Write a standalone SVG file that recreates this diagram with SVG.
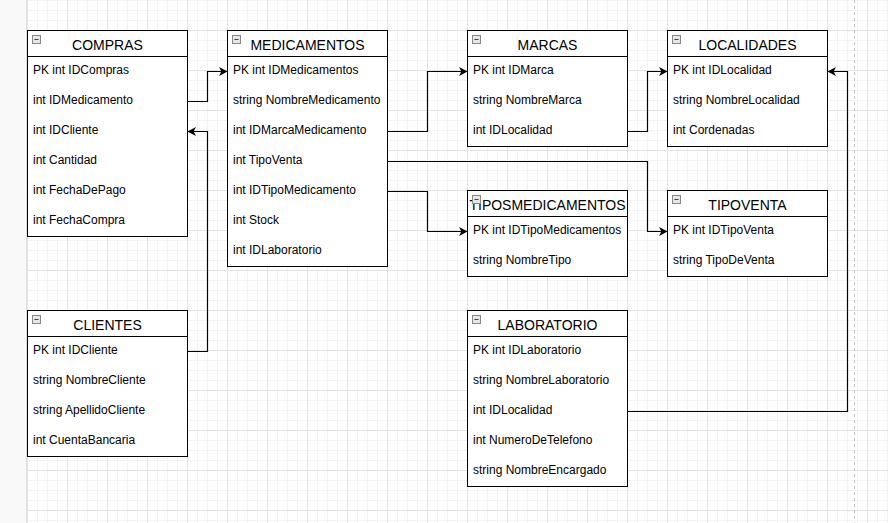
<svg xmlns="http://www.w3.org/2000/svg" width="888" height="523" viewBox="0 0 888 523">
<style>
.box{fill:#ffffff;stroke:#000;stroke-width:1}
.hdr{stroke:#000;stroke-width:1}
.title{font-family:"Liberation Sans",Arial,sans-serif;font-size:14px;fill:#000;text-anchor:middle}
.row{font-family:"Liberation Sans",Arial,sans-serif;font-size:12px;fill:#000}
.ico{fill:#e6e6e6;stroke:#888;stroke-width:1}
.icl{stroke:#444;stroke-width:1}
.edge{fill:none;stroke:#000;stroke-width:1.2}
</style>
<defs>
<pattern id="gmin" x="27" y="30" width="10" height="10" patternUnits="userSpaceOnUse">
<path d="M0.5 0V10M0 0.5H10" stroke="#f3f3f3" stroke-width="1" fill="none"/>
</pattern>
<pattern id="gmaj" x="27" y="30" width="40" height="40" patternUnits="userSpaceOnUse">
<path d="M0.5 0V40M0 0.5H40" stroke="#e3e3e3" stroke-width="1" fill="none"/>
</pattern>
<marker id="arr" markerUnits="userSpaceOnUse" markerWidth="9" markerHeight="9" refX="7.5" refY="4" orient="auto" viewBox="0 0 8 8">
<path d="M0,0 L7.5,4 L0,8 L2,4 Z" fill="#000"/>
</marker>
</defs>
<rect x="0" y="0" width="888" height="523" fill="#ffffff"/>
<rect x="27" y="0" width="861" height="523" fill="url(#gmin)"/>
<rect x="27" y="0" width="861" height="523" fill="url(#gmaj)"/>
<rect x="0" y="0" width="26" height="523" fill="#f9f9f9"/>
<line x1="26.5" y1="0" x2="26.5" y2="523" stroke="#e0e0e0"/>
<line x1="854.5" y1="0" x2="854.5" y2="523" stroke="#c4c4c4" stroke-dasharray="3 3"/>

<g id="connectors">
<path class="edge" d="M187.5,101.5 H207.5 V71.5 H227.5" marker-end="url(#arr)"/>
<path class="edge" d="M187.5,351.5 H207.5 V131.5 H187.5" marker-end="url(#arr)"/>
<path class="edge" d="M387.5,131.5 H427.5 V71.5 H467.5" marker-end="url(#arr)"/>
<path class="edge" d="M627.5,131.5 H647.5 V71.5 H667.5" marker-end="url(#arr)"/>
<path class="edge" d="M387.5,161.5 H647.5 V231.5 H667.5" marker-end="url(#arr)"/>
<path class="edge" d="M387.5,191.5 H427.5 V231.5 H467.5" marker-end="url(#arr)"/>
<path class="edge" d="M627.5,411.5 H847.5 V71.5 H827.5" marker-end="url(#arr)"/>
</g>

<g id="compras">
<rect class="box" x="27.5" y="30.5" width="160" height="206"/>
<line class="hdr" x1="27.5" y1="56.5" x2="187.5" y2="56.5"/>
<rect class="ico" x="32.5" y="35.5" width="8" height="8"/><line class="icl" x1="34.5" y1="39.5" x2="38.5" y2="39.5"/>
<text class="title" x="107.5" y="50">COMPRAS</text>
<text class="row" x="33" y="74">PK int IDCompras</text>
<text class="row" x="33" y="104">int IDMedicamento</text>
<text class="row" x="33" y="134">int IDCliente</text>
<text class="row" x="33" y="164">int Cantidad</text>
<text class="row" x="33" y="194">int FechaDePago</text>
<text class="row" x="33" y="224">int FechaCompra</text>
</g>

<g id="medicamentos">
<rect class="box" x="227.5" y="30.5" width="160" height="236"/>
<line class="hdr" x1="227.5" y1="56.5" x2="387.5" y2="56.5"/>
<rect class="ico" x="232.5" y="35.5" width="8" height="8"/><line class="icl" x1="234.5" y1="39.5" x2="238.5" y2="39.5"/>
<text class="title" x="307.5" y="50">MEDICAMENTOS</text>
<text class="row" x="233" y="74">PK int IDMedicamentos</text>
<text class="row" x="233" y="104">string NombreMedicamento</text>
<text class="row" x="233" y="134">int IDMarcaMedicamento</text>
<text class="row" x="233" y="164">int TipoVenta</text>
<text class="row" x="233" y="194">int IDTipoMedicamento</text>
<text class="row" x="233" y="224">int Stock</text>
<text class="row" x="233" y="254">int IDLaboratorio</text>
</g>

<g id="marcas">
<rect class="box" x="467.5" y="30.5" width="160" height="116"/>
<line class="hdr" x1="467.5" y1="56.5" x2="627.5" y2="56.5"/>
<rect class="ico" x="472.5" y="35.5" width="8" height="8"/><line class="icl" x1="474.5" y1="39.5" x2="478.5" y2="39.5"/>
<text class="title" x="547.5" y="50">MARCAS</text>
<text class="row" x="473" y="74">PK int IDMarca</text>
<text class="row" x="473" y="104">string NombreMarca</text>
<text class="row" x="473" y="134">int IDLocalidad</text>
</g>

<g id="localidades">
<rect class="box" x="667.5" y="30.5" width="160" height="116"/>
<line class="hdr" x1="667.5" y1="56.5" x2="827.5" y2="56.5"/>
<rect class="ico" x="672.5" y="35.5" width="8" height="8"/><line class="icl" x1="674.5" y1="39.5" x2="678.5" y2="39.5"/>
<text class="title" x="747.5" y="50">LOCALIDADES</text>
<text class="row" x="673" y="74">PK int IDLocalidad</text>
<text class="row" x="673" y="104">string NombreLocalidad</text>
<text class="row" x="673" y="134">int Cordenadas</text>
</g>

<g id="tiposmedicamentos">
<rect class="box" x="467.5" y="190.5" width="160" height="86"/>
<line class="hdr" x1="467.5" y1="216.5" x2="627.5" y2="216.5"/>
<text class="title" x="547.5" y="210">TIPOSMEDICAMENTOS</text>
<rect class="ico" x="472.5" y="195.5" width="8" height="8"/><line class="icl" x1="474.5" y1="199.5" x2="478.5" y2="199.5"/>
<text class="row" x="473" y="234">PK int IDTipoMedicamentos</text>
<text class="row" x="473" y="264">string NombreTipo</text>
</g>

<g id="tipoventa">
<rect class="box" x="667.5" y="190.5" width="160" height="86"/>
<line class="hdr" x1="667.5" y1="216.5" x2="827.5" y2="216.5"/>
<rect class="ico" x="672.5" y="195.5" width="8" height="8"/><line class="icl" x1="674.5" y1="199.5" x2="678.5" y2="199.5"/>
<text class="title" x="747.5" y="210">TIPOVENTA</text>
<text class="row" x="673" y="234">PK int IDTipoVenta</text>
<text class="row" x="673" y="264">string TipoDeVenta</text>
</g>

<g id="clientes">
<rect class="box" x="27.5" y="310.5" width="160" height="146"/>
<line class="hdr" x1="27.5" y1="336.5" x2="187.5" y2="336.5"/>
<rect class="ico" x="32.5" y="315.5" width="8" height="8"/><line class="icl" x1="34.5" y1="319.5" x2="38.5" y2="319.5"/>
<text class="title" x="107.5" y="330">CLIENTES</text>
<text class="row" x="33" y="354">PK int IDCliente</text>
<text class="row" x="33" y="384">string NombreCliente</text>
<text class="row" x="33" y="414">string ApellidoCliente</text>
<text class="row" x="33" y="444">int CuentaBancaria</text>
</g>

<g id="laboratorio">
<rect class="box" x="467.5" y="310.5" width="160" height="176"/>
<line class="hdr" x1="467.5" y1="336.5" x2="627.5" y2="336.5"/>
<rect class="ico" x="472.5" y="315.5" width="8" height="8"/><line class="icl" x1="474.5" y1="319.5" x2="478.5" y2="319.5"/>
<text class="title" x="547.5" y="330">LABORATORIO</text>
<text class="row" x="473" y="354">PK int IDLaboratorio</text>
<text class="row" x="473" y="384">string NombreLaboratorio</text>
<text class="row" x="473" y="414">int IDLocalidad</text>
<text class="row" x="473" y="444">int NumeroDeTelefono</text>
<text class="row" x="473" y="474">string NombreEncargado</text>
</g>
</svg>
